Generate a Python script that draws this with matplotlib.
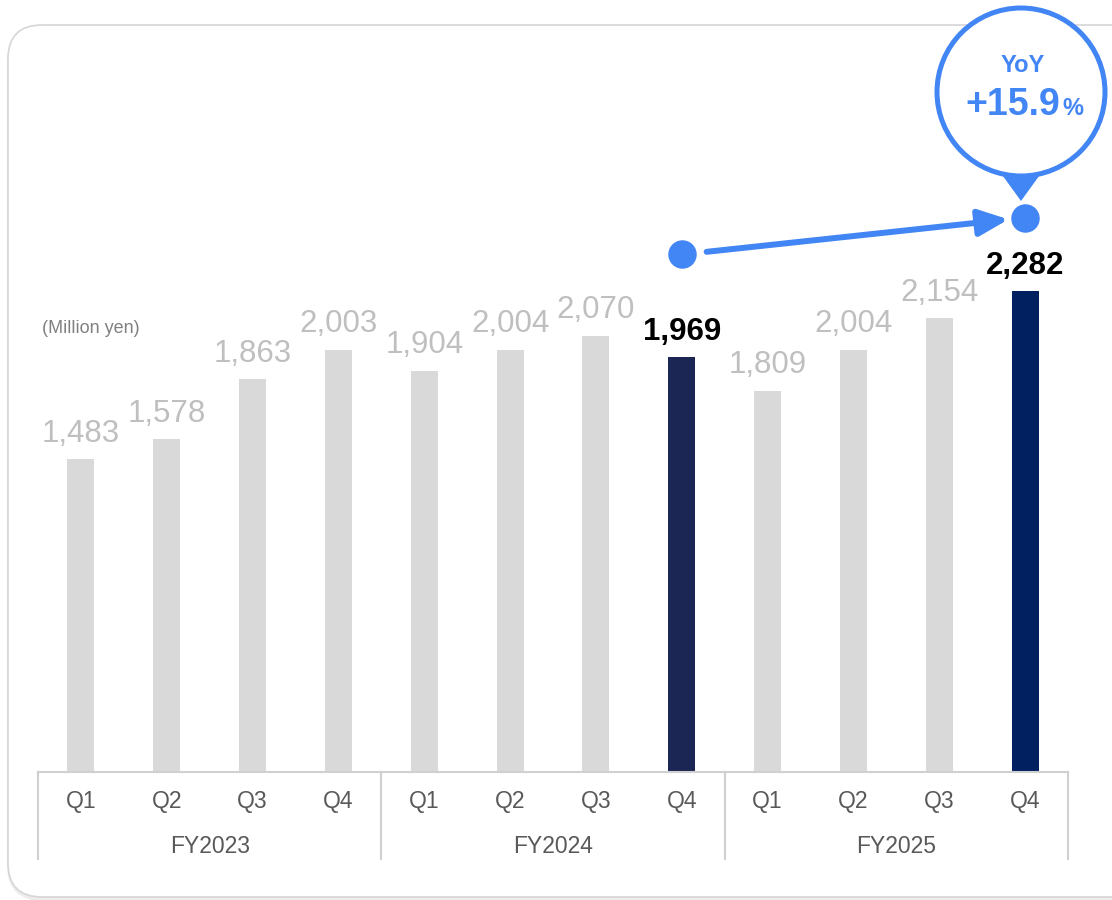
import matplotlib.pyplot as plt
from matplotlib.patches import FancyBboxPatch, Circle, Polygon
import numpy as np

plt.rcParams['font.family'] = ['Liberation Sans', 'DejaVu Sans']

years = ['FY2023', 'FY2024', 'FY2025']
quarters = ['Q1', 'Q2', 'Q3', 'Q4']
sales = [1483, 1578, 1863, 2003,
         1904, 2004, 2070, 1969,
         1809, 2004, 2154, 2282]
highlight = {7: '#1c2654', 11: '#002060'}
yoy_text = '+15.9'
yoy_idx = [7, 11]
yoy_marks = [2455, 2630]

W, H = 1112, 900
fig = plt.figure(figsize=(W / 100, H / 100), dpi=100)

# card background in pixel coordinates
bg = fig.add_axes([0, 0, 1, 1], zorder=0)
bg.set_xlim(0, W)
bg.set_ylim(H, 0)
bg.axis('off')
bg.add_patch(FancyBboxPatch((9, 27), 1140, 872, boxstyle='round,pad=0,rounding_size=34',
                            fc='none', ec='#ededed', lw=3))
bg.add_patch(FancyBboxPatch((8, 25), 1140, 872, boxstyle='round,pad=0,rounding_size=34',
                            fc='white', ec='#d6d6d6', lw=1.2))

# bar chart
ax = fig.add_axes([38 / W, (H - 772) / H, 1030 / W, 747 / H], zorder=1)
ax.patch.set_alpha(0)
x = np.arange(len(sales))
colors = [highlight.get(i, '#d9d9d9') for i in x]
ax.bar(x, sales, width=0.315, color=colors, zorder=2)
ax.set_xlim(-0.5, len(sales) - 0.5)
ax.set_ylim(0, 747 / 0.2108)
for s in ['top', 'right', 'left']:
    ax.spines[s].set_visible(False)
ax.spines['bottom'].set_color('#d0d0d0')
ax.spines['bottom'].set_linewidth(1.5)
ax.set_yticks([])
ax.set_xticks([])

for i, v in enumerate(sales):
    hl = i in highlight
    ax.annotate(f'{v:,}', (i, v), xytext=(0, 12.5), textcoords='offset points',
                ha='center', va='baseline', fontsize=22.5,
                color='black' if hl else '#bfbfbf',
                fontweight='bold' if hl else 'normal')

# two-level category axis
trans = ax.get_xaxis_transform()
for i in x:
    ax.text(i, -0.039, quarters[i % 4], transform=trans, ha='center', va='center',
            fontsize=16.5, color='#595959')
for g, year in enumerate(years):
    ax.text(g * 4 + 1.5, -0.1, year, transform=trans, ha='center', va='center',
            fontsize=16.5, color='#595959')
for b in [-0.5, 3.5, 7.5, 11.5]:
    ax.plot([b, b], [0, -0.116], transform=trans, color='#d0d0d0', lw=1.5, clip_on=False)

ax.text(0.004, 0.594, '(Million yen)', transform=ax.transAxes, fontsize=13,
        color='#808080', va='center', ha='left')

# YoY arrow between Q4 values
blue = '#4285f4'
ax.scatter(yoy_idx, yoy_marks, s=420, color=blue, zorder=4, clip_on=False, lw=0)
ax.annotate('', xy=(yoy_idx[1], yoy_marks[1]), xytext=(yoy_idx[0], yoy_marks[0]),
            arrowprops=dict(arrowstyle='-|>,head_length=0.9,head_width=0.4',
                            mutation_scale=20, color=blue, lw=4.3,
                            shrinkA=18, shrinkB=12), zorder=4)

# callout bubble
ov = fig.add_axes([0, 0, 1, 1], zorder=3)
ov.set_xlim(0, W)
ov.set_ylim(H, 0)
ov.axis('off')
ov.add_patch(Polygon([(1000, 172), (1042, 172), (1021, 201)], closed=True, fc=blue, ec='none'))
ov.add_patch(Circle((1021, 92), 84, fc='white', ec=blue, lw=3.6))
ov.text(1023, 66, 'YoY', ha='center', va='center', fontsize=17, fontweight='bold', color=blue)
ov.text(1060, 115, yoy_text, ha='right', va='baseline', fontsize=27, fontweight='bold', color=blue)
ov.text(1062, 115, '%', ha='left', va='baseline', fontsize=17, fontweight='bold', color=blue)

fig.savefig('out.png', dpi=100, facecolor='white')
